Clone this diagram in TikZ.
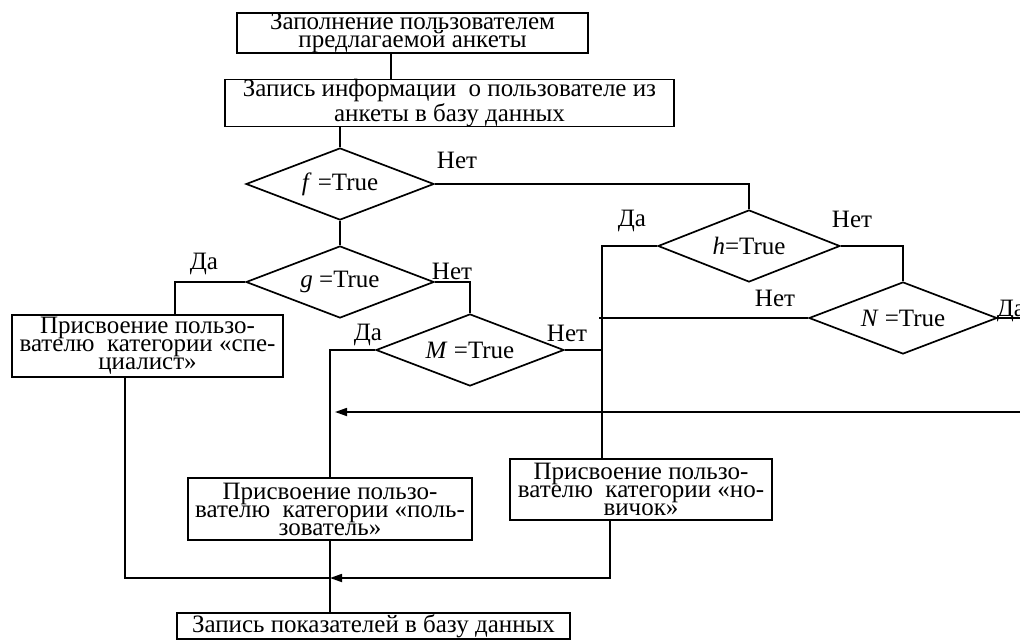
\documentclass[tikz,border=0pt]{standalone}
\usepackage{fontspec}
\setmainfont{Liberation Serif}
\usetikzlibrary{shapes.geometric, arrows.meta, positioning}
\tikzset{
every picture/.style={line width=1.7pt}, % lines of the scheme
block/.style={draw, rectangle, inner sep=0pt, align=center, font=\fontsize{25}{18}\selectfont}, % action boxes
cond/.style={draw, diamond, aspect=2.6, inner sep=0pt, minimum width=188pt, minimum height=72pt, font=\fontsize{25}{18}\selectfont}, % conditions
lbl/.style={inner sep=0pt, font=\fontsize{25}{18}\selectfont}, % Да / Нет
arr/.style={-{Triangle[length=12pt,width=8pt]}},
}
\begin{document}
\begin{tikzpicture}[x=1pt, y=-1pt]
        \useasboundingbox (0,0) rectangle (1020,640);
        % boxes
        \node[block, minimum width=351pt, minimum height=40pt] (anketa) at (412.5,33) {Заполнение пользователем\\предлагаемой анкеты};
        \node[block, minimum width=449pt, minimum height=46pt] (zapis) at (449.5,103) {Запись информации~ о пользователе из\\анкеты в базу данных};
        \node[block, minimum width=271pt, minimum height=62pt] (spec) at (147.5,346) {Присвоение пользо-\\вателю~ категории «спе-\\циалист»};
        \node[block, minimum width=284pt, minimum height=62pt] (user) at (330,509) {Присвоение пользо-\\вателю~ категории «поль-\\зователь»};
        \node[block, minimum width=262pt, minimum height=61pt] (novice) at (641,489.5) {Присвоение пользо-\\вателю~ категории «но-\\вичок»};
        \node[block, minimum width=393pt, minimum height=26pt] (itog) at (373.5,626) {Запись показателей в базу данных};
        % conditions
        \node[cond] (f) at (340,184) {\textit{f} =True};
        \node[cond] (g) at (340,282) {\textit{g} =True};
        \node[cond] (M) at (470,350) {\textit{M} =True};
        \node[cond, minimum width=182pt] (h) at (749,246) {\textit{h}=True};
        \node[cond] (N) at (903,318) {\textit{N} =True};
        % bends
        \coordinate (x1) at (391,0);
        \coordinate (xs) at (175,0);
        \coordinate (xs2) at (125,0);
        \coordinate (xv) at (602,0);
        \coordinate (xn) at (610,0);
        \coordinate (xr) at (1045,0);
        \coordinate (ymid) at (0,412);
        \coordinate (ybot) at (0,578);
        \draw (anketa.south -| x1) -- (zapis.north -| x1)
        (zapis.south -| f) -- (f.north)
        (f.east) -| (h.north)
        (f.south) -- (g.north)
        (g.west) -| (spec.north -| xs)
        (g.east) -| (M.north)
        (M.west) -| (user.north)
        (M.east) -- (M.east -| xv)
        (h.west) -| (novice.north -| xv)
        (h.east) -| (N.north)
        (N.west) -- ([xshift=-3pt]N.west -| xv)
        (spec.south -| xs2) |- (ybot -| user.south)
        (user.south) -- (itog.north -| user.south)
        (novice.south -| xn) -- ([yshift=5pt]ybot -| xn);
        \draw[arr] (N.east) -| (xr |- ymid) -- ([xshift=5pt]ymid -| user.north);
        \draw[arr] (novice.south -| xn) |- (ybot -| user.south);
        % labels
        \node[lbl] at (457,160) {Нет};
        \node[lbl] at (204,264) {Да};
        \node[lbl] at (452,271) {Нет};
        \node[lbl] at (368,335) {Да};
        \node[lbl] at (567,333) {Нет};
        \node[lbl] at (632,221) {Да};
        \node[lbl] at (852,219) {Нет};
        \node[lbl] at (775,298) {Нет};
        \node[lbl, anchor=base west] at (996,316) {Да};
\end{tikzpicture}
\end{document}
